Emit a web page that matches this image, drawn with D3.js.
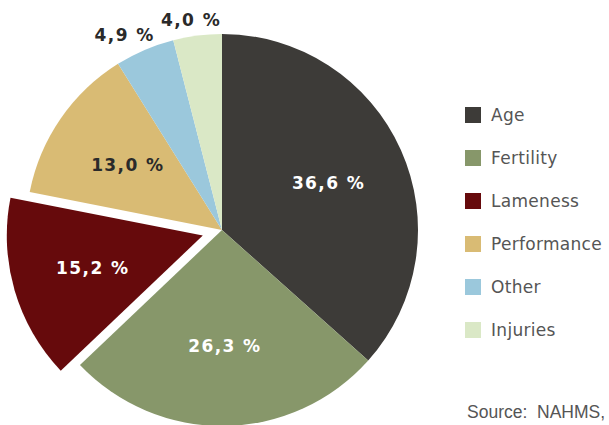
<!DOCTYPE html>
<html>
<head>
<meta charset="utf-8">
<script src="https://cdn.jsdelivr.net/npm/d3@7"></script>
<style>
  html, body { margin: 0; padding: 0; background: #fff; }
  svg { display: block; }
  .pct { font-family: "DejaVu Sans", Verdana, sans-serif; font-weight: bold; font-size: 17px; letter-spacing: 1.4px; }
  .legend text { font-family: "DejaVu Sans", Verdana, sans-serif; font-size: 17px; fill: #555; letter-spacing: 0.3px; }
  .source { font-family: "Liberation Sans", Arial, sans-serif; font-size: 17.5px; fill: #555; white-space: pre; }
</style>
</head>
<body>
<svg id="chart"></svg>
<script>
// Culling reasons, share of culled cows (%)
const categories = ['Age', 'Fertility', 'Lameness', 'Performance', 'Other', 'Injuries'];
const shares = [36.6, 26.3, 15.2, 13.0, 4.9, 4.0];
const colors = ['#3d3b38', '#87976a', '#660a0c', '#d9bb74', '#9bc8dc', '#dae8c6'];
const exploded = ['Lameness'];
const outsideLabels = ['Other', 'Injuries'];
const darkLabels = ['Performance'];
const sourceText = 'Source:  NAHMS,';

const W = 609, H = 425;
const cx = 222, cy = 230, R = 196;
const svg = d3.select('#chart').attr('width', W).attr('height', H);

const data = categories.map((c, i) => ({ name: c, value: shares[i], color: colors[i] }));
const pie = d3.pie().sort(null).value((d) => d.value);
const arcs = pie(data);
const arc = d3.arc().innerRadius(0).outerRadius(R);

const fmt = (v) => d3.format('.1f')(v).replace('.', ',') + ' %';
const dir = (d) => {
  const a = (d.startAngle + d.endAngle) / 2;
  return [Math.sin(a), -Math.cos(a)];
};

const g = svg.append('g').attr('transform', `translate(${cx},${cy})`);

const slice = g.selectAll('g.slice')
  .data(arcs)
  .join('g')
  .attr('class', 'slice')
  .attr('transform', (d) => {
    if (!exploded.includes(d.data.name)) return null;
    const [ux, uy] = dir(d);
    return `translate(${ux * 20},${uy * 20})`;
  });

slice.append('path')
  .attr('d', arc)
  .attr('fill', (d) => d.data.color);

// Labels inside the slices
slice.filter((d) => !outsideLabels.includes(d.data.name))
  .append('text')
  .attr('class', 'pct')
  .attr('text-anchor', 'middle')
  .attr('dy', '0.36em')
  .attr('x', (d) => dir(d)[0] * R * 0.59 + 1)
  .attr('y', (d) => dir(d)[1] * R * 0.59)
  .attr('fill', (d) => (darkLabels.includes(d.data.name) ? '#2a2a2a' : '#fff'))
  .text((d) => fmt(d.data.value));

// Small slices: label just outside the edge
slice.filter((d) => outsideLabels.includes(d.data.name))
  .append('text')
  .attr('class', 'pct')
  .attr('text-anchor', 'middle')
  .attr('dy', '0.36em')
  .attr('x', (d) => dir(d)[0] * (R + 6) + dir(d)[0] * 45)
  .attr('y', (d) => dir(d)[1] * (R + 6) + dir(d)[1] * 10)
  .attr('fill', '#2a2a2a')
  .text((d) => fmt(d.data.value));

// Legend
const legend = svg.append('g').attr('class', 'legend')
  .attr('transform', 'translate(465,107)');
const item = legend.selectAll('g')
  .data(data)
  .join('g')
  .attr('transform', (d, i) => `translate(0,${i * 43})`);
item.append('rect').attr('width', 16).attr('height', 16).attr('fill', (d) => d.color);
item.append('text').attr('x', 26).attr('y', 8).attr('dy', '0.36em').text((d) => d.name);

svg.append('text').attr('class', 'source')
  .attr('x', 467).attr('y', 418)
  .text(sourceText);
</script>
</body>
</html>
